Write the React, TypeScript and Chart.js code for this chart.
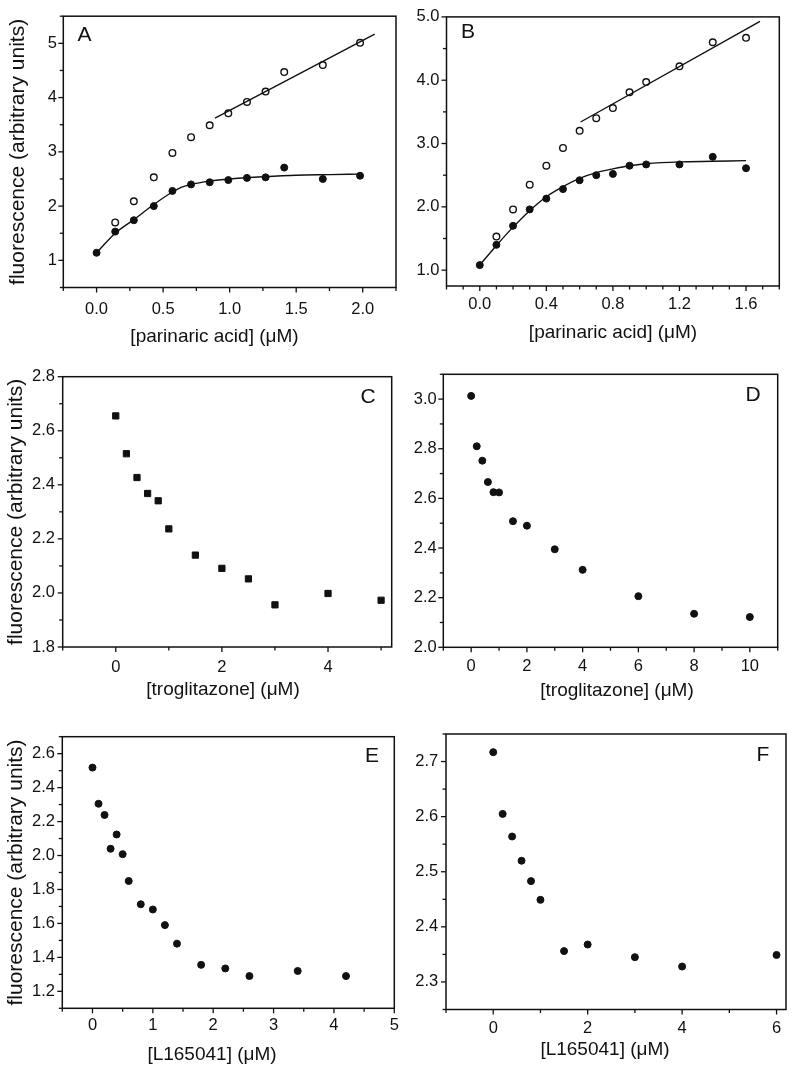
import React, { useEffect, useRef } from 'react';
import { Chart, registerables } from 'chart.js';

Chart.register(...registerables);

const FONT = '"Liberation Sans", Arial, Helvetica, sans-serif';
const INK = '#111111';
const PAGE_W = 800;
const PAGE_H = 1074;

// ---------- Panel A ----------
const aFilledX = [0, 0.14, 0.28, 0.43, 0.57, 0.71, 0.85, 0.99, 1.13, 1.27, 1.41, 1.70, 1.98];
const aFilledY = [1.14, 1.53, 1.74, 2.0, 2.28, 2.40, 2.44, 2.48, 2.52, 2.53, 2.71, 2.50, 2.56];
const aOpenX = [0.14, 0.28, 0.43, 0.57, 0.71, 0.85, 0.99, 1.13, 1.27, 1.41, 1.70, 1.98];
const aOpenY = [1.70, 2.09, 2.53, 2.98, 3.27, 3.49, 3.71, 3.92, 4.11, 4.47, 4.60, 5.01];
const aCurveX = [0, 0.14, 0.28, 0.43, 0.57, 0.64, 0.71, 0.85, 1.0, 1.25, 1.5, 1.75, 1.98];
const aCurveY = [1.14, 1.50, 1.75, 2.03, 2.26, 2.35, 2.40, 2.46, 2.50, 2.54, 2.57, 2.58, 2.59];
const aLineX = [0.89, 2.09];
const aLineY = [3.62, 5.17];

// ---------- Panel B ----------
const bFilledX = [0, 0.1, 0.2, 0.3, 0.4, 0.5, 0.6, 0.7, 0.8, 0.9, 1.0, 1.2, 1.4, 1.6];
const bFilledY = [1.08, 1.40, 1.70, 1.96, 2.13, 2.28, 2.42, 2.50, 2.52, 2.65, 2.67, 2.67, 2.79, 2.61];
const bOpenX = [0.1, 0.2, 0.3, 0.4, 0.5, 0.6, 0.7, 0.8, 0.9, 1.0, 1.2, 1.4, 1.6];
const bOpenY = [1.53, 1.96, 2.35, 2.65, 2.93, 3.20, 3.40, 3.56, 3.81, 3.97, 4.22, 4.60, 4.67];
const bCurveX = [0, 0.1, 0.2, 0.3, 0.4, 0.5, 0.6, 0.7, 0.8, 0.9, 1.0, 1.2, 1.4, 1.6];
const bCurveY = [1.08, 1.39, 1.68, 1.94, 2.16, 2.32, 2.45, 2.54, 2.60, 2.65, 2.68, 2.71, 2.72, 2.73];
const bLineX = [0.606, 1.684];
const bLineY = [3.34, 4.93];

// ---------- Panel C ----------
const cX = [0, 0.2, 0.4, 0.6, 0.8, 1.0, 1.5, 2.0, 2.5, 3.0, 4.0, 5.0];
const cY = [2.655, 2.515, 2.427, 2.368, 2.341, 2.237, 2.14, 2.091, 2.052, 1.956, 1.998, 1.973];

// ---------- Panel D ----------
const dX = [0, 0.2, 0.4, 0.6, 0.8, 1.0, 1.5, 2.0, 3.0, 4.0, 6.0, 8.0, 10.0];
const dY = [3.013, 2.81, 2.752, 2.666, 2.625, 2.624, 2.508, 2.49, 2.395, 2.312, 2.206, 2.135, 2.122];

// ---------- Panel E ----------
const eX = [0, 0.1, 0.2, 0.3, 0.4, 0.5, 0.6, 0.8, 1.0, 1.2, 1.4, 1.8, 2.2, 2.6, 3.4, 4.2];
const eY = [2.518, 2.305, 2.239, 2.04, 2.124, 2.008, 1.85, 1.713, 1.682, 1.59, 1.481, 1.356, 1.335, 1.29, 1.32, 1.29];

// ---------- Panel F ----------
const fX = [0, 0.2, 0.4, 0.6, 0.8, 1.0, 1.5, 2.0, 3.0, 4.0, 6.0];
const fY = [2.717, 2.605, 2.564, 2.52, 2.483, 2.449, 2.356, 2.368, 2.345, 2.328, 2.349];

// ---------- Axis text ----------
const Y_TITLE = 'fluorescence (arbitrary units)';
const X_TITLE_PA = '[parinaric acid] (\u03BCM)';
const X_TITLE_TRO = '[troglitazone] (\u03BCM)';
const X_TITLE_L = '[L165041] (\u03BCM)';

const X_TITLE_SIZE = 19;
const Y_TITLE_SIZE = 21;
const TICK_SIZE = 16.5;

const pts = (xs: number[], ys: number[]) => xs.map((x, i) => ({ x, y: ys[i] }));

const filled = (xs: number[], ys: number[], style = 'circle', r = 3.5) => ({
  data: pts(xs, ys),
  pointStyle: style,
  pointRadius: r,
  pointHoverRadius: r,
  pointBackgroundColor: INK,
  pointBorderColor: INK,
  pointBorderWidth: 1,
  showLine: false,
});

const open = (xs: number[], ys: number[]) => ({
  data: pts(xs, ys),
  pointStyle: 'circle',
  pointRadius: 3.3,
  pointHoverRadius: 3.3,
  pointBackgroundColor: '#ffffff',
  pointBorderColor: INK,
  pointBorderWidth: 1.4,
  showLine: false,
});

const fitLine = (xs: number[], ys: number[], curved: boolean) => ({
  data: pts(xs, ys),
  showLine: true,
  pointRadius: 0,
  pointHoverRadius: 0,
  borderColor: INK,
  borderWidth: 1.4,
  fill: false,
  cubicInterpolationMode: curved ? 'monotone' : 'default',
  tension: 0,
});

const isMult = (v: number, s: number) => Math.abs(v / s - Math.round(v / s)) < 1e-6;

const frameTicks = {
  id: 'frameTicks',
  afterDraw(chart: any, _args: any, o: any) {
    const { ctx, chartArea: a } = chart;
    const xs = chart.scales.x;
    const ys = chart.scales.y;
    ctx.save();
    ctx.strokeStyle = INK;
    ctx.lineWidth = 1.5;
    ctx.strokeRect(a.left, a.top, a.right - a.left, a.bottom - a.top);
    ctx.lineWidth = 1.3;
    for (const t of xs.ticks) {
      if (!isMult(t.value, o.xMinor)) continue;
      const px = xs.getPixelForValue(t.value);
      const len = isMult(t.value, o.xMajor) ? 5 : 3.5;
      ctx.beginPath();
      ctx.moveTo(px, a.bottom);
      ctx.lineTo(px, a.bottom + len);
      ctx.stroke();
    }
    for (const t of ys.ticks) {
      if (!isMult(t.value, o.yMinor)) continue;
      const py = ys.getPixelForValue(t.value);
      const len = isMult(t.value, o.yMajor) ? 5 : 3.5;
      ctx.beginPath();
      ctx.moveTo(a.left, py);
      ctx.lineTo(a.left - len, py);
      ctx.stroke();
    }
    ctx.fillStyle = INK;
    ctx.textAlign = 'center';
    ctx.textBaseline = 'middle';
    ctx.font = `21px ${FONT}`;
    ctx.fillText(o.letter, o.letterX, o.letterY);
    ctx.font = `${X_TITLE_SIZE}px ${FONT}`;
    ctx.fillText(o.xTitle, o.xTitleX, o.xTitleY);
    ctx.restore();
  },
};

type PanelCfg = {
  letter: string;
  letterX: number;
  letterY: number;
  frame: { l: number; r: number; t: number; b: number };
  x: { min: number; max: number; minor: number; major: number; dec: number; title: string; titleCx: number; titleCy: number; pad: number };
  y: { min: number; max: number; minor: number; major: number; dec: number; title?: string; titleCx?: number; pad: number };
  datasets: any[];
};

const panels: PanelCfg[] = [
  {
    letter: 'A', letterX: 84.5, letterY: 35.5,
    frame: { l: 63.3, r: 396, t: 14, b: 287.5 },
    x: { min: -0.25, max: 2.25, minor: 0.25, major: 0.5, dec: 1, title: X_TITLE_PA, titleCx: 214.5, titleCy: 337, pad: 12 },
    y: { min: 0.5, max: 5.5, minor: 0.5, major: 1, dec: 0, title: Y_TITLE, titleCx: 18, pad: 6.3 },
    datasets: [
      fitLine(aLineX, aLineY, false),
      fitLine(aCurveX, aCurveY, true),
      open(aOpenX, aOpenY),
      filled(aFilledX, aFilledY),
    ],
  },
  {
    letter: 'B', letterX: 468, letterY: 32,
    frame: { l: 446.5, r: 779.3, t: 12.7, b: 286 },
    x: { min: -0.2, max: 1.8, minor: 0.1, major: 0.4, dec: 1, title: X_TITLE_PA, titleCx: 613, titleCy: 333, pad: 8.6 },
    y: { min: 0.75, max: 5.0, minor: 0.5, major: 1, dec: 1, pad: 7 },
    datasets: [
      fitLine(bLineX, bLineY, false),
      fitLine(bCurveX, bCurveY, true),
      open(bOpenX, bOpenY),
      filled(bFilledX, bFilledY),
    ],
  },
  {
    letter: 'C', letterX: 368, letterY: 397,
    frame: { l: 62.7, r: 391.7, t: 376.7, b: 647 },
    x: { min: -1, max: 5.2, minor: 1, major: 2, dec: 0, title: X_TITLE_TRO, titleCx: 223, titleCy: 689.5, pad: 10.3 },
    y: { min: 1.8, max: 2.8, minor: 0.1, major: 0.2, dec: 1, title: Y_TITLE, titleCx: 16.5, pad: 7.7 },
    datasets: [filled(cX, cY, 'rect', 4.4)],
  },
  {
    letter: 'D', letterX: 753, letterY: 395,
    frame: { l: 443.3, r: 777.7, t: 374.3, b: 647.3 },
    x: { min: -1, max: 11, minor: 1, major: 2, dec: 0, title: X_TITLE_TRO, titleCx: 617, titleCy: 690.5, pad: 9 },
    y: { min: 2.0, max: 3.1, minor: 0.1, major: 0.2, dec: 1, pad: 6.6 },
    datasets: [filled(dX, dY)],
  },
  {
    letter: 'E', letterX: 372, letterY: 756,
    frame: { l: 62.3, r: 394.3, t: 736.7, b: 1008.3 },
    x: { min: -0.5, max: 5, minor: 0.5, major: 1, dec: 0, title: X_TITLE_L, titleCx: 212, titleCy: 1054.5, pad: 7 },
    y: { min: 1.1, max: 2.7, minor: 0.1, major: 0.2, dec: 1, title: Y_TITLE, titleCx: 15.8, pad: 7.3 },
    datasets: [filled(eX, eY)],
  },
  {
    letter: 'F', letterX: 763, letterY: 755,
    frame: { l: 446, r: 786, t: 734, b: 1009.5 },
    x: { min: -1, max: 6.2, minor: 1, major: 2, dec: 0, title: X_TITLE_L, titleCx: 605, titleCy: 1050, pad: 8.8 },
    y: { min: 2.25, max: 2.75, minor: 0.05, major: 0.1, dec: 1, pad: 7.7 },
    datasets: [filled(fX, fY)],
  },
];

function PanelChart({ cfg }: { cfg: PanelCfg }) {
  const ref = useRef<HTMLCanvasElement>(null);
  useEffect(() => {
    if (!ref.current) return;
    const { frame } = cfg;
    const yLineH = Y_TITLE_SIZE * 1.2;
    const xLineH = X_TITLE_SIZE * 1.2;
    const yLeft = cfg.y.title ? (cfg.y.titleCx as number) - yLineH / 2 : frame.l - 50;
    const xBottom = cfg.x.titleCy + xLineH / 2;
    const chart = new Chart(ref.current, {
      type: 'scatter',
      data: { datasets: cfg.datasets },
      plugins: [frameTicks],
      options: {
        animation: false,
        responsive: false,
        devicePixelRatio: 1,
        events: [],
        layout: {
          padding: {
            left: yLeft,
            right: PAGE_W - frame.r,
            top: frame.t,
            bottom: PAGE_H - xBottom,
          },
        },
        plugins: {
          legend: { display: false },
          tooltip: { enabled: false },
          frameTicks: {
            letter: cfg.letter,
            letterX: cfg.letterX,
            letterY: cfg.letterY,
            xTitle: cfg.x.title,
            xTitleX: cfg.x.titleCx,
            xTitleY: cfg.x.titleCy,
            xMinor: cfg.x.minor,
            xMajor: cfg.x.major,
            yMinor: cfg.y.minor,
            yMajor: cfg.y.major,
          },
        } as any,
        scales: {
          x: {
            type: 'linear',
            position: 'bottom',
            min: cfg.x.min,
            max: cfg.x.max,
            border: { display: false },
            grid: { display: true, drawOnChartArea: false, drawTicks: false, color: 'rgba(0,0,0,0)' },
            ticks: {
              stepSize: cfg.x.minor,
              includeBounds: false,
              autoSkip: false,
              maxRotation: 0,
              padding: cfg.x.pad,
              color: INK,
              font: { family: FONT, size: TICK_SIZE },
              callback: (v: any) => (isMult(Number(v), cfg.x.major) ? Number(v).toFixed(cfg.x.dec) : ''),
            },
            title: { display: false },
            afterFit: (s: any) => {
              s.height = xBottom - frame.b;
            },
          },
          y: {
            type: 'linear',
            position: 'left',
            min: cfg.y.min,
            max: cfg.y.max,
            border: { display: false },
            grid: { display: true, drawOnChartArea: false, drawTicks: false, color: 'rgba(0,0,0,0)' },
            ticks: {
              stepSize: cfg.y.minor,
              includeBounds: false,
              autoSkip: false,
              padding: cfg.y.pad,
              color: INK,
              font: { family: FONT, size: TICK_SIZE },
              callback: (v: any) => (isMult(Number(v), cfg.y.major) ? Number(v).toFixed(cfg.y.dec) : ''),
            },
            title: {
              display: !!cfg.y.title,
              text: cfg.y.title || '',
              color: INK,
              padding: 0,
              font: { family: FONT, size: Y_TITLE_SIZE },
            },
            afterFit: (s: any) => {
              s.width = frame.l - yLeft;
            },
          },
        },
      } as any,
    });
    return () => chart.destroy();
  }, [cfg]);
  return (
    <canvas
      ref={ref}
      width={PAGE_W}
      height={PAGE_H}
      style={{ position: 'absolute', left: 0, top: 0, width: PAGE_W, height: PAGE_H }}
    />
  );
}

export default function App() {
  return (
    <div style={{ position: 'absolute', left: 0, top: 0, width: PAGE_W, height: PAGE_H, background: '#ffffff', overflow: 'hidden' }}>
      {panels.map((p) => (
        <PanelChart key={p.letter} cfg={p} />
      ))}
    </div>
  );
}
